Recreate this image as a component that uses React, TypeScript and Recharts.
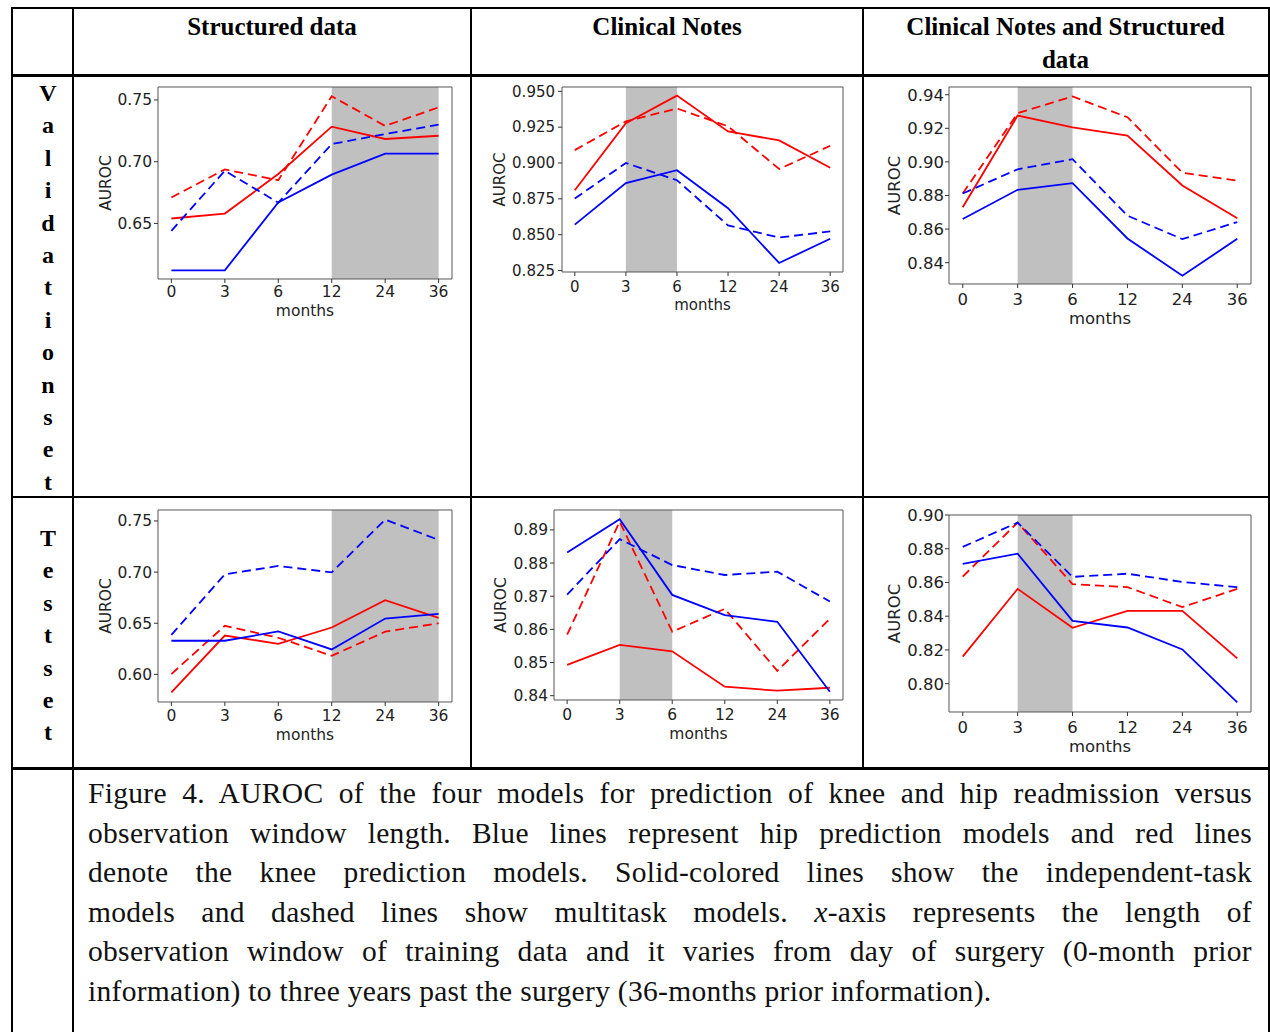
import React from "react";
import { LineChart, Line, XAxis, YAxis, ReferenceArea } from "recharts";

const MONTHS = ["0", "3", "6", "12", "24", "36"];

// validation set — structured data
const VAL_SD_HIP_SINGLE = [0.612, 0.612, 0.667, 0.6895, 0.7065, 0.7065];
const VAL_SD_HIP_MULTI = [0.644, 0.6927, 0.6668, 0.7143, 0.7224, 0.73];
const VAL_SD_KNEE_SINGLE = [0.654, 0.658, 0.69, 0.7284, 0.7184, 0.721];
const VAL_SD_KNEE_MULTI = [0.671, 0.6938, 0.685, 0.753, 0.729, 0.744];

// validation set — clinical notes
const VAL_CN_HIP_SINGLE = [0.857, 0.886, 0.895, 0.8685, 0.8303, 0.8472];
const VAL_CN_HIP_MULTI = [0.8752, 0.9, 0.888, 0.8565, 0.848, 0.8523];
const VAL_CN_KNEE_SINGLE = [0.881, 0.9278, 0.947, 0.922, 0.9158, 0.8967];
const VAL_CN_KNEE_MULTI = [0.909, 0.929, 0.938, 0.9256, 0.8958, 0.912];

// validation set — notes + structured
const VAL_ALL_HIP_SINGLE = [0.866, 0.8834, 0.8873, 0.8544, 0.8322, 0.8542];
const VAL_ALL_HIP_MULTI = [0.8812, 0.8956, 0.9016, 0.868, 0.854, 0.8642];
const VAL_ALL_KNEE_SINGLE = [0.873, 0.9276, 0.9206, 0.9157, 0.886, 0.8664];
const VAL_ALL_KNEE_MULTI = [0.8812, 0.929, 0.939, 0.9266, 0.8936, 0.8888];

// test set — structured data
const TEST_SD_HIP_SINGLE = [0.6329, 0.6329, 0.642, 0.6244, 0.6546, 0.6592];
const TEST_SD_HIP_MULTI = [0.6387, 0.6978, 0.706, 0.6997, 0.7513, 0.7315];
const TEST_SD_KNEE_SINGLE = [0.5824, 0.638, 0.6299, 0.6458, 0.6725, 0.6552];
const TEST_SD_KNEE_MULTI = [0.6003, 0.6475, 0.6358, 0.6182, 0.6417, 0.65];

// test set — clinical notes
const TEST_CN_HIP_SINGLE = [0.8832, 0.8932, 0.8704, 0.8643, 0.8623, 0.8412];
const TEST_CN_HIP_MULTI = [0.8705, 0.8872, 0.8794, 0.8764, 0.8774, 0.8684];
const TEST_CN_KNEE_SINGLE = [0.8493, 0.8553, 0.8534, 0.8427, 0.8415, 0.8424];
const TEST_CN_KNEE_MULTI = [0.8584, 0.8925, 0.8593, 0.8662, 0.8475, 0.8632];

// test set — notes + structured
const TEST_ALL_HIP_SINGLE = [0.871, 0.8771, 0.8372, 0.8333, 0.8203, 0.7889];
const TEST_ALL_HIP_MULTI = [0.8811, 0.8955, 0.8633, 0.8652, 0.8603, 0.8572];
const TEST_ALL_KNEE_SINGLE = [0.816, 0.8562, 0.8331, 0.8432, 0.8432, 0.815];
const TEST_ALL_KNEE_MULTI = [0.8635, 0.8955, 0.859, 0.8572, 0.8454, 0.8562];

// y ticks
const TICKS_VAL_SD = [0.65, 0.7, 0.75];
const TICKS_VAL_CN = [0.825, 0.85, 0.875, 0.9, 0.925, 0.95];
const TICKS_VAL_ALL = [0.84, 0.86, 0.88, 0.9, 0.92, 0.94];
const TICKS_TEST_SD = [0.6, 0.65, 0.7, 0.75];
const TICKS_TEST_CN = [0.84, 0.85, 0.86, 0.87, 0.88, 0.89];
const TICKS_TEST_ALL = [0.8, 0.82, 0.84, 0.86, 0.88, 0.9];

const HEADERS = ["Structured data", "Clinical Notes", "Clinical Notes and Structured data"];
const ROW_LABELS = ["Validationset", "Testset"];

const CAPTION = [
  "Figure 4. AUROC of the four models for prediction of knee and hip readmission versus",
  "observation window length. Blue lines represent hip prediction models and red lines",
  "denote the knee prediction models.  Solid-colored lines show the independent-task",
  "models and dashed lines show multitask models. {x}-axis represents the length of",
  "observation window of training data and it varies from day of surgery (0-month prior",
  "information) to three years past the surgery (36-months prior information).",
];

const RED = "#ff0000";
const BLUE = "#0000ff";
const SHADE = "#c0c0c0";
const INK = "#222";
const DASH = "9 5";

type Panel = {
  id: string;
  x: number; // plot frame
  y: number;
  w: number;
  h: number;
  domain: [number, number];
  ticks: number[];
  digits: number;
  shade: [number, number];
  hipSingle: number[];
  hipMulti: number[];
  kneeSingle: number[];
  kneeMulti: number[];
  font: number;
  labelX: number; // AUROC centre
  tickY: number; // x tick label centre
  monthsY: number; // "months" centre
  gap: number; // y tick label to frame
};

const PANELS: Panel[] = [
  { id: "vsd", x: 158, y: 87, w: 294, h: 192, domain: [0.605, 0.7605], ticks: TICKS_VAL_SD, digits: 2, shade: [3, 5],
    hipSingle: VAL_SD_HIP_SINGLE, hipMulti: VAL_SD_HIP_MULTI, kneeSingle: VAL_SD_KNEE_SINGLE, kneeMulti: VAL_SD_KNEE_MULTI,
    font: 15.5, labelX: 105, tickY: 291.7, monthsY: 310, gap: 6 },
  { id: "vcn", x: 562, y: 87, w: 281, h: 185, domain: [0.824, 0.953], ticks: TICKS_VAL_CN, digits: 3, shade: [1, 2],
    hipSingle: VAL_CN_HIP_SINGLE, hipMulti: VAL_CN_HIP_MULTI, kneeSingle: VAL_CN_KNEE_SINGLE, kneeMulti: VAL_CN_KNEE_MULTI,
    font: 15, labelX: 500, tickY: 286.7, monthsY: 304, gap: 7 },
  { id: "vall", x: 949, y: 87, w: 302, h: 197, domain: [0.8273, 0.9446], ticks: TICKS_VAL_ALL, digits: 2, shade: [1, 2],
    hipSingle: VAL_ALL_HIP_SINGLE, hipMulti: VAL_ALL_HIP_MULTI, kneeSingle: VAL_ALL_KNEE_SINGLE, kneeMulti: VAL_ALL_KNEE_MULTI,
    font: 16.5, labelX: 894, tickY: 299, monthsY: 318, gap: 5 },
  { id: "tsd", x: 158, y: 510, w: 294, h: 192, domain: [0.573, 0.7607], ticks: TICKS_TEST_SD, digits: 2, shade: [3, 5],
    hipSingle: TEST_SD_HIP_SINGLE, hipMulti: TEST_SD_HIP_MULTI, kneeSingle: TEST_SD_KNEE_SINGLE, kneeMulti: TEST_SD_KNEE_MULTI,
    font: 15.5, labelX: 105, tickY: 715.7, monthsY: 734, gap: 6 },
  { id: "tcn", x: 554, y: 510, w: 289, h: 190, domain: [0.8387, 0.896], ticks: TICKS_TEST_CN, digits: 2, shade: [1, 2],
    hipSingle: TEST_CN_HIP_SINGLE, hipMulti: TEST_CN_HIP_MULTI, kneeSingle: TEST_CN_KNEE_SINGLE, kneeMulti: TEST_CN_KNEE_MULTI,
    font: 15.5, labelX: 500.7, tickY: 714.3, monthsY: 733.3, gap: 6 },
  { id: "tall", x: 949, y: 515, w: 302, h: 197, domain: [0.7832, 0.9], ticks: TICKS_TEST_ALL, digits: 2, shade: [1, 2],
    hipSingle: TEST_ALL_HIP_SINGLE, hipMulti: TEST_ALL_HIP_MULTI, kneeSingle: TEST_ALL_KNEE_SINGLE, kneeMulti: TEST_ALL_KNEE_MULTI,
    font: 16.5, labelX: 894, tickY: 727.7, monthsY: 745.7, gap: 5 },
];

const YW = 72;
const TICK = 4;
const PAD_TOP = 12;
const PAD_BOTTOM = 8;

function AurocChart({ p }: { p: Panel }) {
  const rows = MONTHS.map((m, i) => ({
    i,
    month: m,
    hipSingle: p.hipSingle[i],
    hipMulti: p.hipMulti[i],
    kneeSingle: p.kneeSingle[i],
    kneeMulti: p.kneeMulti[i],
  }));
  const bottom = p.y + p.h;
  const xh = p.monthsY + 0.37 * p.font - bottom;
  const tickMargin = p.tickY - 0.365 * p.font - bottom - TICK;
  const font = { fontFamily: "'DejaVu Sans', sans-serif", fontSize: p.font, fill: INK };
  const left = p.x - YW;

  return (
    <div style={{ position: "absolute", left, top: p.y - PAD_TOP }}>
      <LineChart
        width={YW + p.w + 2}
        height={PAD_TOP + p.h + xh + PAD_BOTTOM}
        data={rows}
        margin={{ top: PAD_TOP, right: 2, left: 0, bottom: PAD_BOTTOM }}
      >
        <XAxis
          dataKey="i"
          type="number"
          domain={[-0.25, 5.25]}
          ticks={[0, 1, 2, 3, 4, 5]}
          tickFormatter={(v) => MONTHS[v]}
          height={xh}
          axisLine={false}
          tickLine={{ stroke: "#333" }}
          tickSize={TICK}
          tickMargin={tickMargin}
          tick={font}
          interval={0}
          label={{ value: "months", position: "insideBottom", offset: 0, style: font }}
        />
        <YAxis
          type="number"
          domain={p.domain}
          allowDataOverflow
          ticks={p.ticks}
          tickFormatter={(v) => Number(v).toFixed(p.digits)}
          width={YW}
          axisLine={false}
          tickLine={{ stroke: "#333" }}
          tickSize={TICK}
          tickMargin={p.gap - TICK}
          tick={font}
          interval={0}
          label={{
            value: "AUROC",
            angle: -90,
            position: "insideLeft",
            offset: p.labelX - left,
            style: { ...font, textAnchor: "middle" },
          }}
        />
        <ReferenceArea x1={p.shade[0]} x2={p.shade[1]} fill={SHADE} fillOpacity={1} stroke="none" />
        <Line dataKey="kneeMulti" stroke={RED} strokeWidth={1.8} strokeDasharray={DASH} dot={false} isAnimationActive={false} />
        <Line dataKey="kneeSingle" stroke={RED} strokeWidth={1.8} dot={false} isAnimationActive={false} />
        <Line dataKey="hipMulti" stroke={BLUE} strokeWidth={1.8} strokeDasharray={DASH} dot={false} isAnimationActive={false} />
        <Line dataKey="hipSingle" stroke={BLUE} strokeWidth={1.8} dot={false} isAnimationActive={false} />
        <ReferenceArea x1={-0.25} x2={5.25} y1={p.domain[0]} y2={p.domain[1]} fill="none" stroke="#555" strokeWidth={1} />
      </LineChart>
    </div>
  );
}

const line = (l: number, t: number, w: number, h: number) => (
  <div key={`${l}-${t}-${w}-${h}`} style={{ position: "absolute", left: l, top: t, width: w, height: h, background: "#000" }} />
);

const SERIF = "'Liberation Serif', 'Times New Roman', serif";

export default function App() {
  const headerCols = [
    { x0: 73, x1: 471 },
    { x0: 471, x1: 863 },
    { x0: 863, x1: 1268 },
  ];
  const rowStarts = [93, 538];
  return (
    <div style={{ position: "relative", width: 1270, height: 1032, overflow: "hidden", background: "#fff" }}>
      <style>{"body{margin:0}"}</style>

      {/* table rules */}
      {line(11, 7, 1259, 2)}
      {line(11, 74, 1259, 2.5)}
      {line(11, 496, 1259, 2)}
      {line(11, 767, 1259, 2.5)}
      {line(11, 7, 2, 1025)}
      {line(72, 7, 2, 1025)}
      {line(470, 7, 2, 761)}
      {line(862, 7, 2, 761)}
      {line(1268, 7, 2, 1025)}

      {/* column headers */}
      {HEADERS.map((h, k) => (
        <div
          key={h}
          style={{
            position: "absolute",
            left: headerCols[k].x0 + 28,
            width: headerCols[k].x1 - headerCols[k].x0 - 56,
            top: 10,
            textAlign: "center",
            fontFamily: SERIF,
            fontWeight: "bold",
            fontSize: 25,
            lineHeight: "33px",
            color: "#000",
          }}
        >
          {h}
        </div>
      ))}

      {/* vertical row labels */}
      {ROW_LABELS.map((lab, r) =>
        lab.split("").map((ch, k) => (
          <div
            key={`${r}-${k}`}
            style={{
              position: "absolute",
              left: 28,
              width: 40,
              top: rowStarts[r] + k * 32.4 - 16,
              height: 32,
              lineHeight: "32px",
              textAlign: "center",
              fontFamily: SERIF,
              fontWeight: "bold",
              fontSize: 24,
              color: "#000",
            }}
          >
            {ch}
          </div>
        ))
      )}

      {PANELS.map((p) => (
        <AurocChart key={p.id} p={p} />
      ))}

      {/* caption */}
      {CAPTION.map((txt, k) => {
        const parts = txt.split("{x}");
        return (
          <div
            key={k}
            style={{
              position: "absolute",
              left: 88,
              width: 1164,
              top: 793 + k * 39.6 - 20,
              height: 40,
              lineHeight: "40px",
              fontFamily: SERIF,
              fontSize: 29.5,
              letterSpacing: "0.3px",
              color: "#111",
              textAlign: "justify",
              textAlignLast: k < CAPTION.length - 1 ? "justify" : "left",
              whiteSpace: "nowrap",
            }}
          >
            {parts.length > 1 ? (
              <>
                {parts[0]}
                <i>x</i>
                {parts[1]}
              </>
            ) : (
              txt
            )}
          </div>
        );
      })}
    </div>
  );
}
